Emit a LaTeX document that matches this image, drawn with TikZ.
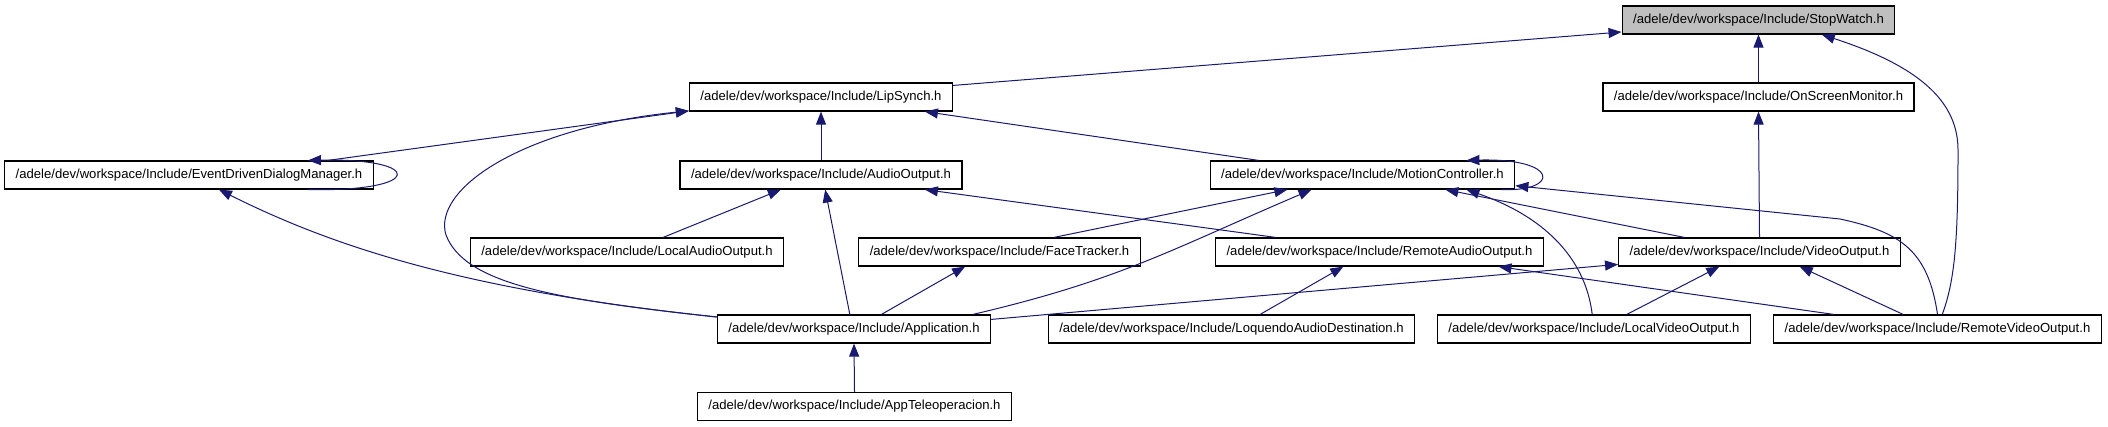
\documentclass[tikz,border=0pt]{standalone}
\usepackage{fontspec}
\setmainfont{Liberation Sans}
\usetikzlibrary{arrows.meta}

\definecolor{edgeblue}{HTML}{191970}
\definecolor{rootgray}{HTML}{BFBFBF}

\begin{document}
\begin{tikzpicture}[x=1pt, y=-1pt,
    filebox/.style={draw=black, line width=1.2pt, fill=white, minimum height=28pt, inner xsep=11pt, inner ysep=0pt, font=\fontsize{13.1}{15}\selectfont},
    rootbox/.style={filebox, fill=rootgray},
    dep/.style={draw=edgeblue, line width=1pt, -{Triangle[length=13pt,width=10pt]}}
]
\useasboundingbox (0,0) rectangle (2108,427);

% ===== FILES =====
\node[rootbox] (stopwatch) at (1758.5,20) {/adele/dev/workspace/Include/StopWatch.h};

\node[filebox] (lipsynch) at (821,97) {/adele/dev/workspace/Include/LipSynch.h};
\node[filebox] (onscreen) at (1758.5,97) {/adele/dev/workspace/Include/OnScreenMonitor.h};

\node[filebox] (edm) at (189,175) {/adele/dev/workspace/Include/EventDrivenDialogManager.h};
\node[filebox] (audio) at (821,175) {/adele/dev/workspace/Include/AudioOutput.h};
\node[filebox] (motion) at (1362.5,175) {/adele/dev/workspace/Include/MotionController.h};

\node[filebox] (localaudio) at (627,252) {/adele/dev/workspace/Include/LocalAudioOutput.h};
\node[filebox] (facetracker) at (999.5,252) {/adele/dev/workspace/Include/FaceTracker.h};
\node[filebox] (remoteaudio) at (1379.5,252) {/adele/dev/workspace/Include/RemoteAudioOutput.h};
\node[filebox] (video) at (1759.5,252) {/adele/dev/workspace/Include/VideoOutput.h};

\node[filebox] (app) at (854,329) {/adele/dev/workspace/Include/Application.h};
\node[filebox] (loquendo) at (1231.5,329) {/adele/dev/workspace/Include/LoquendoAudioDestination.h};
\node[filebox] (localvideo) at (1594,329) {/adele/dev/workspace/Include/LocalVideoOutput.h};
\node[filebox] (remotevideo) at (1937.5,329) {/adele/dev/workspace/Include/RemoteVideoOutput.h};

\node[filebox] (appteleop) at (854.5,406.5) {/adele/dev/workspace/Include/AppTeleoperacion.h};

% ===== INCLUDES =====
% into StopWatch
\draw[dep] (lipsynch.5) -- (stopwatch.185);
\draw[dep] (onscreen.north) -- (stopwatch.south);
\draw[dep] (remotevideo.72) .. controls (1955,280) and (1958,240) .. (1958,150)
           .. controls (1958,105) and (1925,68) .. (stopwatch.-13.5);

% into LipSynch
\draw[dep] (edm.6.2) -- (lipsynch.186);
\draw[dep] (app.175) .. controls (560,300) and (465,285) .. (446,235)
           .. controls (432,190) and (520,128) .. (lipsynch.186);
\draw[dep] (audio.north) -- (lipsynch.south);
\draw[dep] (motion.172) -- (lipsynch.-8);

% into EventDrivenDialogManager
\draw[dep] (edm.-7.5) .. controls (425,192) and (425,158) .. (edm.7.2);
\draw[dep] (app.175) .. controls (460,290) and (330,245) .. (edm.-26);

% into AudioOutput
\draw[dep] (localaudio.22) -- (audio.200);
\draw[dep] (app.106) -- (audio.286);
\draw[dep] (remoteaudio.172) -- (audio.-8);

% into MotionController
\draw[dep] (motion.-6) .. controls (1560,192) and (1560,158) .. (motion.8.4);
\draw[dep] (facetracker.15) -- (motion.191);
\draw[dep] (app.7.5) .. controls (1120,280) and (1170,250) .. (motion.196);
\draw[dep] (video.169) -- (motion.-10.6);
\draw[dep] (localvideo.97) .. controls (1585,255) and (1540,215) .. (motion.-8);
\draw[dep] (remotevideo.north) .. controls (1928,250) and (1900,232) .. (1840,219) -- (motion.-4);

% into OnScreenMonitor and VideoOutput
\draw[dep] (video.north) -- (onscreen.south);
\draw[dep] (app.4.6) -- (video.185);
\draw[dep] (localvideo.24) -- (video.200);
\draw[dep] (remotevideo.157) -- (video.-20);

% into RemoteAudioOutput, FaceTracker, Application
\draw[dep] (loquendo.27) -- (remoteaudio.202);
\draw[dep] (remotevideo.172) -- (remoteaudio.-7.7);
\draw[dep] (app.28) -- (facetracker.203);
\draw[dep] (appteleop.north) -- (app.south);

\end{tikzpicture}
\end{document}
